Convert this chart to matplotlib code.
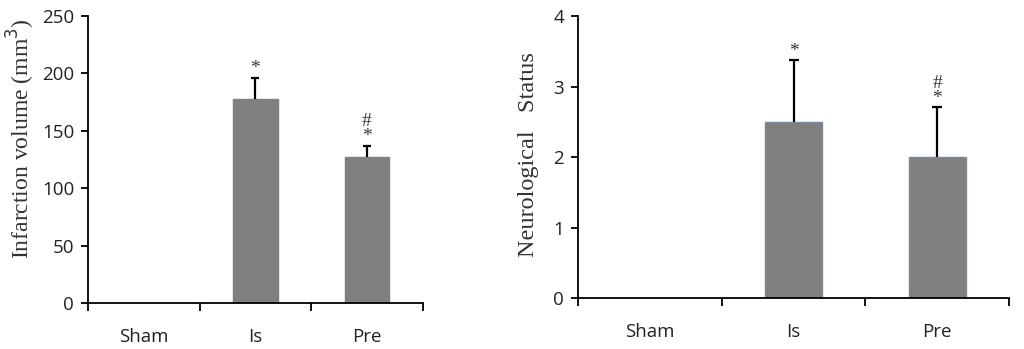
import matplotlib.pyplot as plt
import numpy as np

# Data
groups = ["Sham", "Is", "Pre"]
infarct_mean = [0, 178, 127]
infarct_err = [0, 18, 10]
infarct_marks = ["", "*", "#\n*"]

neuro_mean = [0, 2.5, 2.0]
neuro_err = [0, 0.88, 0.71]
neuro_marks = ["", "*", "#\n*"]

bar_color = "#808080"
tick_font = "Open Sans"
label_font = "Liberation Serif"

fig = plt.figure(figsize=(10.24, 3.49), dpi=100)
ax1 = fig.add_axes([0.0859, 0.132, 0.327, 0.822])
ax2 = fig.add_axes([0.5645, 0.146, 0.421, 0.808])


def draw_panel(ax, means, errs, marks, ymax, yticks, ylabel, label_size, label_xy, edge, mark_pad):
    x = np.arange(len(groups))
    show = [m > 0 for m in means]
    xs = x[show]
    ms = np.array(means)[show]
    es = np.array(errs)[show]
    ax.bar(xs, ms, width=0.4, color=bar_color, edgecolor=edge, linewidth=1.0, zorder=2)
    # upper error bar only, cap on top
    ax.vlines(xs, ms, ms + es, color="black", linewidth=1.6, zorder=3)
    ax.hlines(ms + es, xs - 0.035, xs + 0.035, color="black", linewidth=1.6, zorder=3)
    for xi, m, e, t in zip(xs, ms, es, np.array(marks)[show]):
        ax.text(xi, m + e + mark_pad, t, ha="center", va="bottom", fontsize=14,
                family=label_font, linespacing=0.85, color="#333333")

    ax.set_xlim(-0.5, len(groups) - 0.5)
    ax.set_ylim(0, ymax)
    ax.set_yticks(yticks)
    ax.set_xticks(x)
    ax.set_xticklabels(groups)
    ax.set_xticks(np.arange(len(groups) + 1) - 0.5, minor=True)
    ax.tick_params(axis="x", which="major", length=0, pad=18)
    ax.tick_params(axis="x", which="minor", length=6, width=1.3, direction="out")
    ax.tick_params(axis="y", length=5, width=1.3, direction="out", pad=5)
    for lab in ax.get_xticklabels() + ax.get_yticklabels():
        lab.set_family(tick_font)
        lab.set_fontsize(13.5)
        lab.set_color("#222222")
    ax.spines["top"].set_visible(False)
    ax.spines["right"].set_visible(False)
    ax.spines["left"].set_linewidth(1.3)
    ax.spines["bottom"].set_linewidth(1.3)
    ax.set_ylabel(ylabel, family=label_font, fontsize=label_size, color="#333333",
                  va="center")
    ax.yaxis.set_label_coords(*label_xy)


draw_panel(ax1, infarct_mean, infarct_err, infarct_marks, 250, [0, 50, 100, 150, 200, 250],
           "Infarction volume (mm$^3$)", 17, (-0.2, 0.573), bar_color, 1)
draw_panel(ax2, neuro_mean, neuro_err, neuro_marks, 4, [0, 1, 2, 3, 4],
           "Neurological   Status", 17.5, (-0.116, 0.51), "#7a8a9a", 0.0)

fig.savefig("out.png", dpi=100)
